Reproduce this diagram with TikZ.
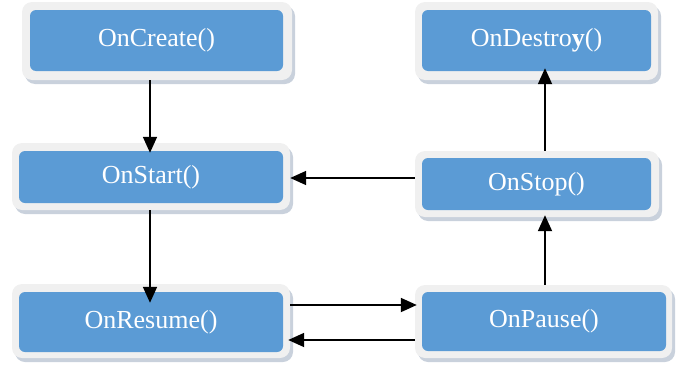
\documentclass[tikz,border=0pt]{standalone}
\usepackage{fontspec}
\setmainfont{Liberation Serif}
\usetikzlibrary{arrows.meta,shadows}
\definecolor{boxblue}{HTML}{5B9BD5}
\definecolor{boxrim}{HTML}{F0F0F0}
\definecolor{boxshadow}{HTML}{C9D1DC}
\tikzset{
  rimbox/.style={fill=boxrim, rounded corners=10pt, inner sep=0pt,
    drop shadow={shadow xshift=3pt, shadow yshift=-4pt, fill=boxshadow, opacity=1}},
  bluebox/.style={fill=boxblue, rounded corners=6pt, inner sep=0pt,
    text=white, font=\fontsize{26}{30}\selectfont},
  arr/.style={line width=1.8pt, -{Triangle[length=16pt,width=14pt]}},
}
\begin{document}
\begin{tikzpicture}[x=1pt,y=-1pt]
\useasboundingbox (0,0) rectangle (680,367);
% rims
\node[rimbox, minimum width=270pt, minimum height=78pt] (cO) at (157,41) {};
\node[rimbox, minimum width=278pt, minimum height=67pt] (sO) at (151,176.5) {};
\node[rimbox, minimum width=278pt, minimum height=74pt] (rO) at (151,321) {};
\node[rimbox, minimum width=257pt, minimum height=73pt] (pO) at (543.5,321.5) {};
\node[rimbox, minimum width=243pt, minimum height=78pt] (dO) at (536.5,41) {};
\node[rimbox, minimum width=244pt, minimum height=66pt] (tO) at (537,184) {};
% blue boxes
\node[bluebox, minimum width=253pt, minimum height=61pt] (c) at (156.5,40.5) {OnCreate()};
\node[bluebox, minimum width=264pt, minimum height=52pt] (s) at (151,177) {OnStart()};
\node[bluebox, minimum width=264pt, minimum height=60pt] (r) at (151,322) {OnResume()};
\node[bluebox, minimum width=244pt, minimum height=59pt] (p) at (544,321.5) {OnPause()};
\node[bluebox, minimum width=229pt, minimum height=61pt] (d) at (536.5,40.5) {OnDestro\textbf{y}()};
\node[bluebox, minimum width=229pt, minimum height=52pt] (t) at (536.5,184) {OnStop()};
% guide coordinates
\coordinate (xl) at (150,0);
\coordinate (xr) at (545,0);
\coordinate (ys) at (0,178);
\coordinate (yu) at (0,305);
\coordinate (yd) at (0,340);
% connectors
\draw[arr] (cO.south -| xl) -- ([yshift=-2pt]s.north -| xl);
\draw[arr, shorten >=-11pt] (sO.south -| xl) -- (r.north -| xl);
\draw[arr] (tO.west |- ys) -- (sO.east |- ys);
\draw[arr] (pO.north -| xr) -- ([yshift=2pt]tO.south -| xr);
\draw[arr] (tO.north -| xr) -- ([yshift=3pt]d.south -| xr);
\draw[arr] (rO.east |- yu) -- ([xshift=2pt]pO.west |- yu);
\draw[arr] (pO.west |- yd) -- ([xshift=-2pt]rO.east |- yd);
\end{tikzpicture}
\end{document}
